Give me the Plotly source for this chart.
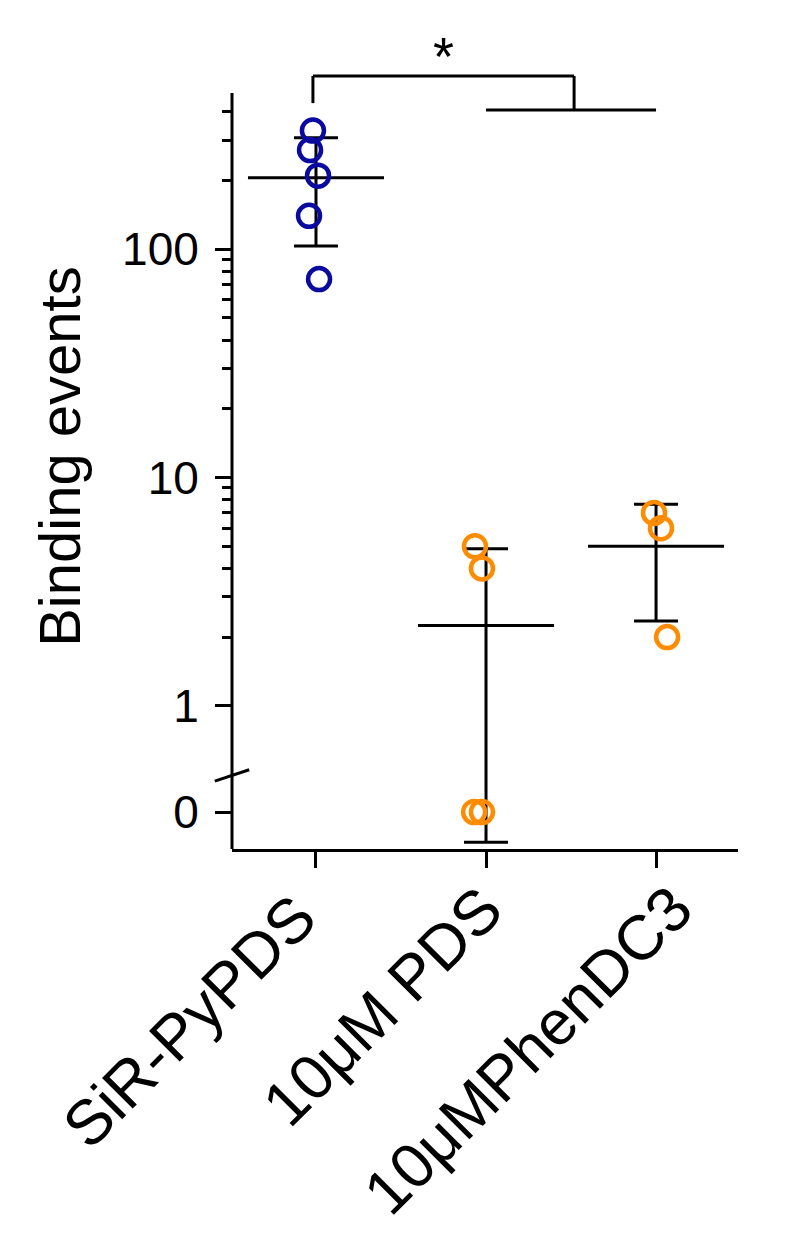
import numpy as np
import plotly.graph_objects as go

# Data
groups = ['SiR-PyPDS', '10μM PDS', '10μMPhenDC3']
sir_values = [331, 272, 210, 140, 74]
pds_values = [5, 4, 0, 0]
phen_values = [7, 6, 2]
sir_jitter = [-0.018, -0.035, 0.012, -0.041, 0.018]
pds_jitter = [-0.065, -0.024, -0.07, -0.024]
phen_jitter = [-0.012, 0.029, 0.065]

y_tick_vals = [0, 1, 10, 100]
y_tick_text = ['0', '1', '10', '100']
minor_vals = [2, 3, 4, 5, 6, 7, 8, 9, 20, 30, 40, 50, 60, 70, 80, 90, 200, 300, 400]

# log axis with a broken segment for zero
ZERO_POS = -0.465
Y_BOTTOM = -0.627
Y_TOP = 3.004
AXIS_TOP = 2.684

# where each rotated category label ends (x in data units, y in paper units)
label_x = [0.094, 1.188, 2.306]
label_y = [-0.035, -0.0254, -0.0254]


def to_axis(v):
    v = np.asarray(v, dtype=float)
    out = np.full(v.shape, ZERO_POS)
    pos = v > 0
    out[pos] = np.log10(v[pos])
    return out


BLUE = '#0a0aa0'
ORANGE = '#ff8c00'
FONT = 'Arial, Liberation Sans, sans-serif'
LW = 3

fig = go.Figure()

series = [
    (0, sir_values, sir_jitter, BLUE),
    (1, pds_values, pds_jitter, ORANGE),
    (2, phen_values, phen_jitter, ORANGE),
]

for xi, vals, jit, color in series:
    arr = np.array(vals, dtype=float)
    mean = arr.mean()
    sd = arr.std(ddof=1)
    y_mean = np.log10(mean)
    y_hi = np.log10(mean + sd)
    y_lo = np.log10(mean - sd) if mean - sd > 0 else Y_BOTTOM + 0.03

    fig.add_trace(go.Scatter(
        x=[xi], y=[y_mean],
        mode='markers',
        marker=dict(size=1, color='rgba(0,0,0,0)'),
        error_y=dict(type='data', symmetric=False,
                     array=[y_hi - y_mean], arrayminus=[y_mean - y_lo],
                     color='black', thickness=LW, width=22),
        error_x=dict(type='constant', value=0.4, color='black',
                     thickness=LW, width=0),
        showlegend=False, hoverinfo='skip'
    ))

    fig.add_trace(go.Scatter(
        x=[xi + j for j in jit], y=to_axis(vals),
        mode='markers',
        marker=dict(symbol='circle-open', size=22, color=color,
                    line=dict(color=color, width=4.5)),
        cliponaxis=False,
        showlegend=False
    ))

shapes = [
    # y axis line (stops below the bracket)
    dict(type='line', xref='paper', yref='y', x0=0, x1=0,
         y0=Y_BOTTOM, y1=AXIS_TOP, line=dict(color='black', width=LW)),
    # axis break mark
    dict(type='line', xref='paper', yref='y', x0=-0.034, x1=0.034,
         y0=-0.33, y1=-0.28, line=dict(color='black', width=LW)),
    # significance bracket
    dict(type='line', xref='x', yref='y', x0=-0.018, x1=-0.018,
         y0=2.640, y1=2.759, line=dict(color='black', width=LW)),
    dict(type='line', xref='x', yref='y', x0=-0.018, x1=1.518,
         y0=2.759, y1=2.759, line=dict(color='black', width=LW)),
    dict(type='line', xref='x', yref='y', x0=1.518, x1=1.518,
         y0=2.759, y1=2.610, line=dict(color='black', width=LW)),
    dict(type='line', xref='x', yref='y', x0=1.0, x1=2.0,
         y0=2.610, y1=2.610, line=dict(color='black', width=LW)),
]

annotations = [
    dict(text='*', x=0.747, y=2.847, xref='x', yref='y', showarrow=False,
         font=dict(size=54, family=FONT, color='black'),
         xanchor='center', yanchor='middle'),
    dict(text='Binding events', x=-0.34, y=0.473, xref='paper', yref='paper',
         textangle=-90, showarrow=False,
         font=dict(size=58, family=FONT, color='black'),
         xanchor='center', yanchor='middle'),
]
for name, lx, ly in zip(groups, label_x, label_y):
    annotations.append(dict(
        text=name, x=lx, y=ly, xref='x', yref='paper',
        textangle=-45, showarrow=False,
        font=dict(size=63, family=FONT, color='black'),
        xanchor='right', yanchor='top'
    ))

fig.update_layout(
    width=800, height=1253,
    margin=dict(l=224, r=70, t=12, b=412),
    plot_bgcolor='white', paper_bgcolor='white',
    font=dict(family=FONT, color='black'),
    shapes=shapes,
    annotations=annotations,
    xaxis=dict(
        range=[-0.494, 2.482],
        tickvals=[0, 1, 2], showticklabels=False,
        showline=True, linecolor='black', linewidth=LW,
        ticks='outside', ticklen=16, tickwidth=LW, tickcolor='black',
        showgrid=False, zeroline=False,
    ),
    yaxis=dict(
        range=[Y_BOTTOM, Y_TOP],
        tickvals=to_axis(y_tick_vals), ticktext=y_tick_text,
        tickfont=dict(size=46, family=FONT, color='black'),
        ticks='outside', ticklen=16, tickwidth=LW, tickcolor='black',
        ticklabelstandoff=7,
        minor=dict(tickmode='array', tickvals=to_axis(minor_vals),
                   ticks='outside', ticklen=9, tickwidth=LW, tickcolor='black'),
        showline=False, showgrid=False, zeroline=False,
    ),
)

fig.write_html("out.html")
